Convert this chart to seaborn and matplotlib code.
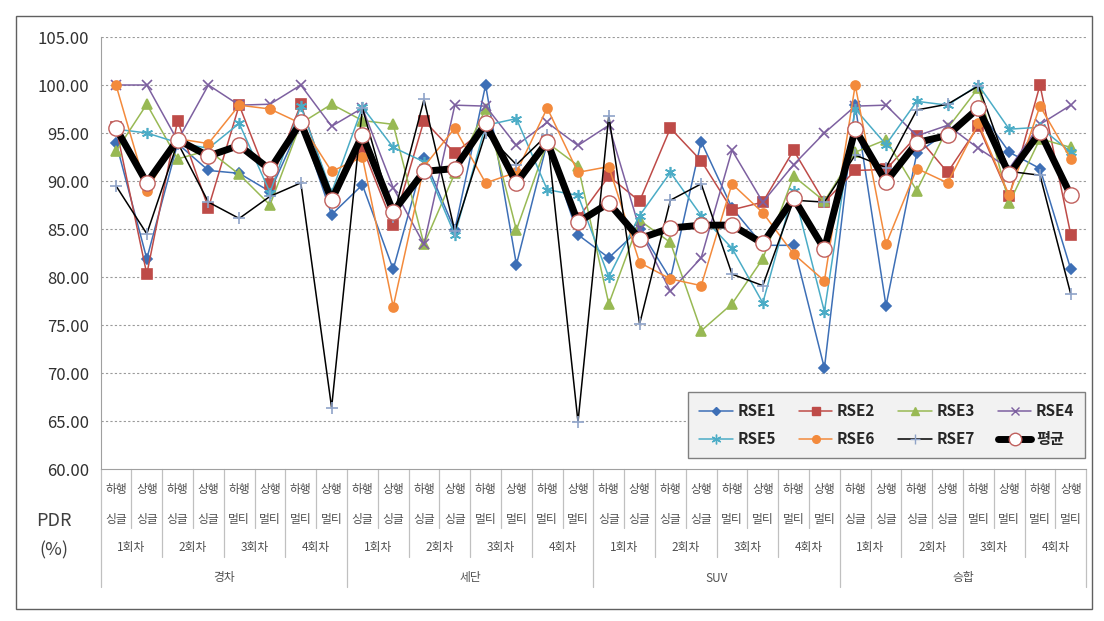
import matplotlib
matplotlib.use("Agg")
import matplotlib.pyplot as plt
from matplotlib.lines import Line2D
from matplotlib.patches import Rectangle
import matplotlib.transforms as mtrans
import seaborn as sns
import pandas as pd
import numpy as np

# 카테고리 (차종 x 회차 x 방향)
vehicles = ['경차', '세단', 'SUV', '승합']
rounds = ['1회차', '2회차', '3회차', '4회차']
antennas = ['싱글', '싱글', '멀티', '멀티']
directions = ['하행', '상행']

# RSE별 PDR (%)
rse1 = [94.0, 81.9, 93.9, 91.1, 90.8, 88.9, 96.0, 86.5, 89.6, 80.8, 92.4, 84.9, 100.0, 81.3, 94.0, 84.4,
        82.0, 85.0, 79.8, 94.1, 87.2, 83.3, 83.3, 70.5, 97.9, 77.0, 92.9, 95.1, 97.5, 93.0, 91.3, 80.8]
rse2 = [95.6, 80.3, 96.3, 87.2, 97.9, 89.7, 98.0, 88.5, 93.5, 85.4, 96.3, 92.9, 95.5, 90.4, 94.2, 86.1,
        90.5, 87.9, 95.5, 92.1, 87.0, 87.8, 93.2, 87.8, 91.1, 91.2, 94.7, 90.9, 95.7, 88.4, 100.0, 84.4]
rse3 = [93.1, 98.0, 92.3, 93.2, 90.7, 87.5, 96.0, 98.0, 96.3, 95.9, 83.4, 90.8, 97.5, 84.9, 94.0, 91.6,
        77.2, 85.9, 83.6, 74.4, 77.2, 81.9, 90.5, 87.9, 93.0, 94.3, 89.0, 95.5, 99.7, 87.7, 94.4, 93.5]
rse4 = [100.0, 100.0, 94.2, 100.0, 97.9, 98.0, 100.0, 95.7, 97.6, 89.3, 83.4, 97.9, 97.8, 93.7, 96.1, 93.7,
        95.8, 85.0, 78.5, 82.0, 93.2, 87.8, 91.7, 95.0, 97.8, 97.9, 94.7, 95.8, 93.4, 91.3, 95.9, 97.9]
rse5 = [95.4, 95.0, 94.0, 93.4, 96.0, 88.8, 97.8, 88.8, 97.7, 93.5, 92.0, 84.4, 95.8, 96.5, 89.1, 88.5,
        80.0, 86.4, 90.9, 86.4, 83.0, 77.3, 89.0, 76.4, 97.5, 93.8, 98.3, 97.9, 100.0, 95.4, 95.6, 93.0]
rse6 = [100.0, 89.0, 94.4, 93.9, 97.9, 97.5, 96.0, 91.0, 92.5, 76.9, 91.5, 95.5, 89.8, 90.9, 97.6, 90.9,
        91.5, 81.5, 79.8, 79.1, 89.7, 86.7, 82.4, 79.6, 100.0, 83.4, 91.3, 89.8, 96.0, 88.5, 97.8, 92.3]
rse7 = [89.5, 84.5, 94.0, 87.8, 86.1, 88.4, 89.8, 66.4, 97.6, 86.2, 98.5, 84.8, 95.0, 91.7, 94.8, 64.9,
        96.8, 75.1, 88.0, 89.7, 80.3, 79.1, 88.0, 87.8, 92.7, 91.4, 97.4, 98.0, 99.9, 91.0, 90.6, 78.2]
avg = [95.5, 89.8, 94.3, 92.6, 93.7, 91.2, 96.1, 88.0, 94.8, 86.8, 91.0, 91.3, 96.0, 89.8, 94.1, 85.7,
       87.7, 84.0, 85.1, 85.4, 85.4, 83.5, 88.2, 82.9, 95.4, 89.9, 94.0, 94.75, 97.6, 90.7, 95.1, 88.5]

series_names = ['RSE1', 'RSE2', 'RSE3', 'RSE4', 'RSE5', 'RSE6', 'RSE7']
series_vals = [rse1, rse2, rse3, rse4, rse5, rse6, rse7]

# 스타일
styles = {
    'RSE1': dict(color='#3d6fb6', marker='D', ms=5, mfc='#3d6fb6', mec='#3d6fb6'),
    'RSE2': dict(color='#be4b48', marker='s', ms=6.5, mfc='#be4b48', mec='#be4b48'),
    'RSE3': dict(color='#98b954', marker='^', ms=7, mfc='#98b954', mec='#98b954'),
    'RSE4': dict(color='#7d60a0', marker='x', ms=6.5, mfc='#7d60a0', mec='#7d60a0'),
    'RSE5': dict(color='#4bacc6', marker=(6, 2, 0), ms=8, mfc='#4bacc6', mec='#4bacc6'),
    'RSE6': dict(color='#f38a3c', marker='o', ms=6.5, mfc='#f38a3c', mec='#f38a3c'),
    'RSE7': dict(color='black', marker='+', ms=8, mfc='#8fa3c8', mec='#8fa3c8'),
}

n_cat = len(vehicles) * len(rounds) * len(directions)
x = np.arange(n_cat)

sns.set_style('white')
plt.rcParams['font.family'] = ['Noto Sans CJK KR', 'DejaVu Sans']

fig = plt.figure(figsize=(11.04, 6.21), dpi=100)
ax = fig.add_axes([100.6 / 1104, 152 / 621, 985.6 / 1104, 432 / 621])

for name, vals in zip(series_names, series_vals):
    st = styles[name]
    sns.lineplot(x=x, y=vals, ax=ax, color=st['color'], marker=st['marker'], markersize=st['ms'],
                 markerfacecolor=st['mfc'], markeredgecolor=st['mec'], markeredgewidth=1.2,
                 linewidth=1.1, legend=False, zorder=3)

sns.lineplot(x=x, y=avg, ax=ax, color='black', linewidth=5, marker='o', markersize=11,
             markerfacecolor='white', markeredgecolor='#c0605d', markeredgewidth=1.0,
             legend=False, zorder=5)

ax.set_xlim(-0.5, n_cat - 0.5)
ax.set_ylim(60, 105)
ax.set_yticks(np.arange(60, 106, 5))
ax.set_yticklabels([f'{v:.2f}' for v in np.arange(60, 106, 5)], fontsize=12, color='#303030')
ax.set_xticks([])
ax.tick_params(axis='y', direction='out', length=6, color='#a0a0a0', pad=2)
for v in np.arange(65, 106, 5):
    ax.axhline(v, color='#9a9a9a', linestyle=(0, (2, 2)), linewidth=0.8, zorder=1)
for side in ['top', 'right']:
    ax.spines[side].set_visible(False)
ax.spines['left'].set_color('#a0a0a0')
ax.spines['bottom'].set_color('#a0a0a0')
ax.set_xlabel('')
ax.set_ylabel('')

# 다단 카테고리 축
trans = mtrans.blended_transform_factory(ax.transData, ax.transAxes)
h = 432.0
row_y = [-(490 - 469) / h, -(519 - 469) / h, -(548 - 469) / h, -(578 - 469) / h]
sep_short = -(528 - 469) / h
sep_mid = -(557 - 469) / h
sep_long = -(587 - 469) / h
lc = '#c0c0c0'
tc = '#505050'

for i in range(n_cat):
    ax.text(i, row_y[0], directions[i % 2], transform=trans, ha='center', va='center',
            fontsize=8.5, color=tc)
    ax.text(i, row_y[1], antennas[(i // 2) % 4], transform=trans, ha='center', va='center',
            fontsize=8.5, color=tc)
for j in range(n_cat // 2):
    ax.text(2 * j + 0.5, row_y[2], rounds[j % 4], transform=trans, ha='center', va='center',
            fontsize=8.5, color=tc)
for k, vname in enumerate(vehicles):
    ax.text(8 * k + 3.5, row_y[3], vname, transform=trans, ha='center', va='center',
            fontsize=8.5, color=tc)

for b in range(n_cat + 1):
    if b % 8 == 0:
        y_end = sep_long
    elif b % 2 == 0:
        y_end = sep_mid
    else:
        y_end = sep_short
    ax.add_line(Line2D([b - 0.5, b - 0.5], [0, y_end], transform=trans, color=lc,
                       linewidth=0.9, clip_on=False))

fig.text(54 / 1104, 1 - 521 / 621, 'PDR', ha='center', va='center', fontsize=13, color='#404040')
fig.text(54 / 1104, 1 - 550 / 621, '(%)', ha='center', va='center', fontsize=13, color='#404040')

# 범례
handles = {}
for name in series_names:
    st = styles[name]
    handles[name] = Line2D([], [], color=st['color'], marker=st['marker'], markersize=st['ms'] - 1,
                           markerfacecolor=st['mfc'], markeredgecolor=st['mec'], linewidth=1.1)
handles['평균'] = Line2D([], [], color='black', linewidth=5, marker='o', markersize=9,
                       markerfacecolor='white', markeredgecolor='#c0605d')
order = ['RSE1', 'RSE5', 'RSE2', 'RSE6', 'RSE3', 'RSE7', 'RSE4', '평균']
leg = ax.legend([handles[o] for o in order], order, ncol=4, loc='lower right',
                bbox_to_anchor=(1085 / 1104, 1 - 458 / 621), bbox_transform=fig.transFigure,
                borderaxespad=0, frameon=True, fancybox=False, edgecolor='#808080',
                facecolor='#f2f2f2', framealpha=1, prop={'weight': 'bold', 'size': 11},
                handlelength=2.2, handletextpad=0.3, columnspacing=1.5, labelspacing=0.8,
                borderpad=0.7)
leg.set_zorder(10)

fig.patches.append(Rectangle((16 / 1104, 1 - 609 / 621), 1076 / 1104, 593 / 621,
                             transform=fig.transFigure, fill=False, edgecolor='#606060',
                             linewidth=1.0))

fig.savefig('out.png', dpi=100)
